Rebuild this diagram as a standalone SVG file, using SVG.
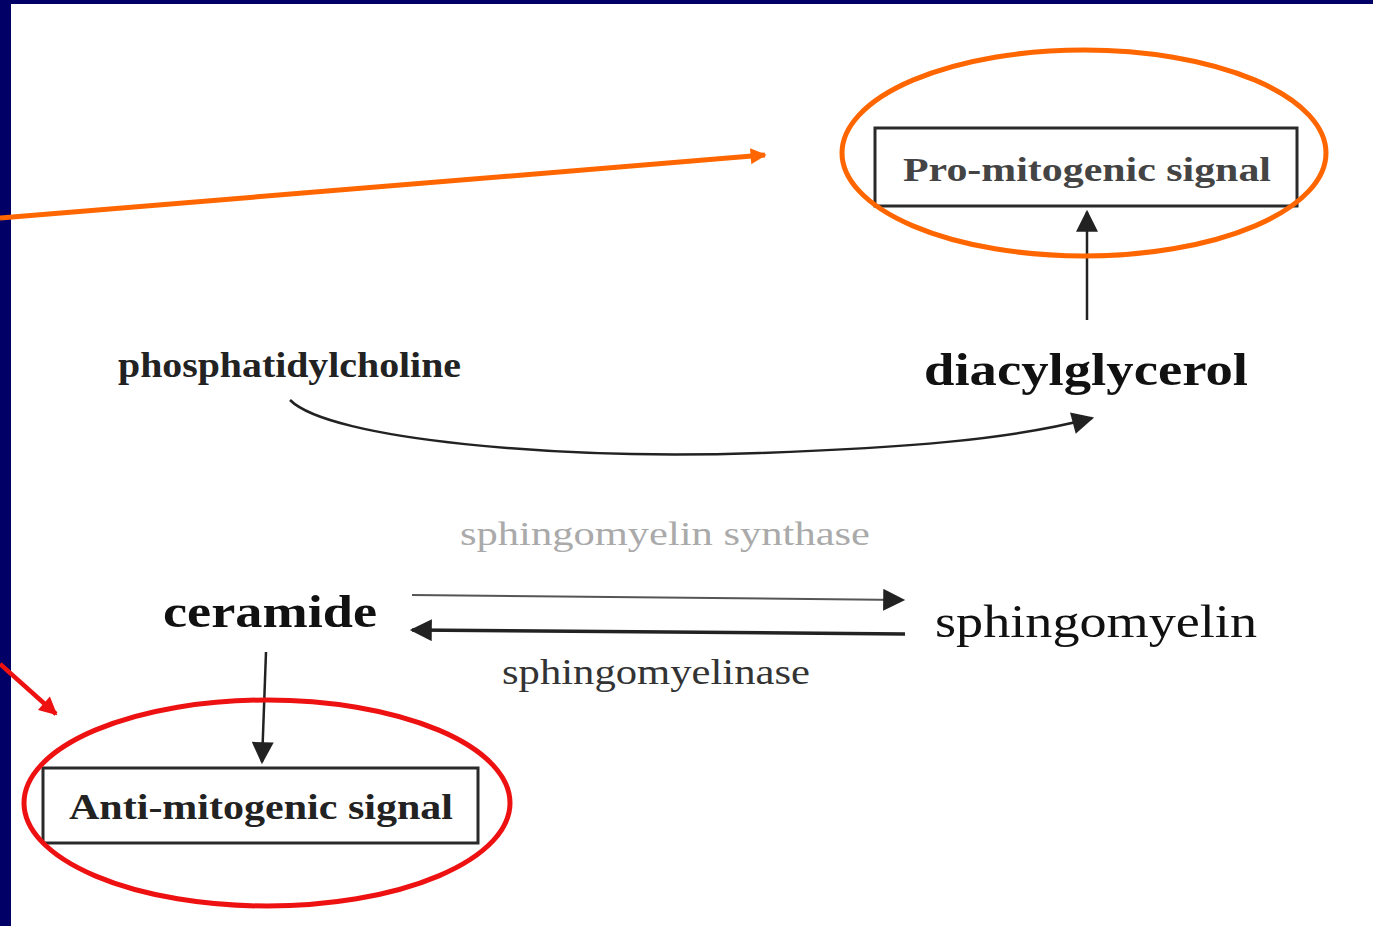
<svg xmlns="http://www.w3.org/2000/svg" width="1373" height="926" viewBox="0 0 1373 926">
<style>
.t{font-family:"Liberation Serif","Times New Roman",serif;}
.box{fill:none;stroke:#2a2a2a;stroke-width:3;}
.blk{stroke:#222;fill:none;}
</style>
<defs>
<marker id="ah" viewBox="0 0 10 10" refX="9" refY="5" markerWidth="7" markerHeight="7" markerUnits="userSpaceOnUse" orient="auto">
<path d="M0,0 L10,5 L0,10 z" fill="#222"/>
</marker>
<marker id="ahB" viewBox="0 0 10 10" refX="9" refY="5" markerWidth="24" markerHeight="22" markerUnits="userSpaceOnUse" orient="auto">
<path d="M0,0 L10,5 L0,10 z" fill="#222"/>
</marker>
<marker id="ahO" viewBox="0 0 10 10" refX="9" refY="5" markerWidth="20" markerHeight="16" markerUnits="userSpaceOnUse" orient="auto">
<path d="M0,0 L10,5 L0,10 z" fill="#ff6600"/>
</marker>
<marker id="ahR" viewBox="0 0 10 10" refX="9" refY="5" markerWidth="22" markerHeight="18" markerUnits="userSpaceOnUse" orient="auto">
<path d="M0,0 L10,5 L0,10 z" fill="#ee1111"/>
</marker>
</defs>
<rect x="0" y="0" width="1373" height="926" fill="#ffffff"/>
<rect x="0" y="0" width="1373" height="4" fill="#000066"/>
<rect x="0" y="0" width="11" height="926" fill="#000066"/>

<g id="connectors">
<line x1="1087" y1="320" x2="1087" y2="212" class="blk" stroke-width="2.5" marker-end="url(#ahB)"/>
<path d="M290,400 C330,440 560,460 760,453 C900,448 1010,440 1092,418" class="blk" stroke-width="2.5" marker-end="url(#ahB)"/>
<line x1="412" y1="595" x2="903" y2="600" stroke="#555" stroke-width="2" marker-end="url(#ahB)"/>
<line x1="905" y1="634" x2="412" y2="630" class="blk" stroke-width="3.5" marker-end="url(#ahB)"/>
<line x1="266" y1="652" x2="262" y2="762" class="blk" stroke-width="2.5" marker-end="url(#ahB)"/>
<line x1="0" y1="218" x2="765" y2="155" stroke="#ff6600" stroke-width="5" marker-end="url(#ahO)"/>
<line x1="0" y1="664" x2="56" y2="714" stroke="#ee1111" stroke-width="4.5" marker-end="url(#ahR)"/>
</g>

<g id="pro-mitogenic">
<rect x="875" y="128" width="422" height="78" class="box"/>
<text x="1087" y="181" text-anchor="middle" class="t" font-size="34" font-weight="bold" fill="#444" textLength="368" lengthAdjust="spacingAndGlyphs">Pro-mitogenic signal</text>
<ellipse cx="1084" cy="153" rx="242" ry="103" fill="none" stroke="#ff6600" stroke-width="5"/>
</g>

<g id="diacylglycerol">
<text x="924" y="385" class="t" font-size="46" font-weight="bold" fill="#111" textLength="324" lengthAdjust="spacingAndGlyphs">diacylglycerol</text>
</g>

<g id="phosphatidylcholine">
<text x="118" y="377" class="t" font-size="36" font-weight="bold" fill="#222" textLength="343" lengthAdjust="spacingAndGlyphs">phosphatidylcholine</text>
</g>

<g id="sm-synthase">
<text x="460" y="545" class="t" font-size="33" fill="#aaaaaa" textLength="410" lengthAdjust="spacingAndGlyphs">sphingomyelin synthase</text>
</g>

<g id="ceramide">
<text x="163" y="627" class="t" font-size="46" font-weight="bold" fill="#111" textLength="214" lengthAdjust="spacingAndGlyphs">ceramide</text>
</g>

<g id="sphingomyelin">
<text x="935" y="637" class="t" font-size="46" fill="#111" textLength="322" lengthAdjust="spacingAndGlyphs">sphingomyelin</text>
</g>

<g id="sphingomyelinase">
<text x="502" y="684" class="t" font-size="36" fill="#333" textLength="308" lengthAdjust="spacingAndGlyphs">sphingomyelinase</text>
</g>

<g id="anti-mitogenic">
<rect x="43" y="768" width="435" height="75" class="box"/>
<text x="69" y="819" class="t" font-size="36" font-weight="bold" fill="#222" textLength="384" lengthAdjust="spacingAndGlyphs">Anti-mitogenic signal</text>
<ellipse cx="267" cy="803" rx="243" ry="103" fill="none" stroke="#ee1111" stroke-width="5"/>
</g>
</svg>
